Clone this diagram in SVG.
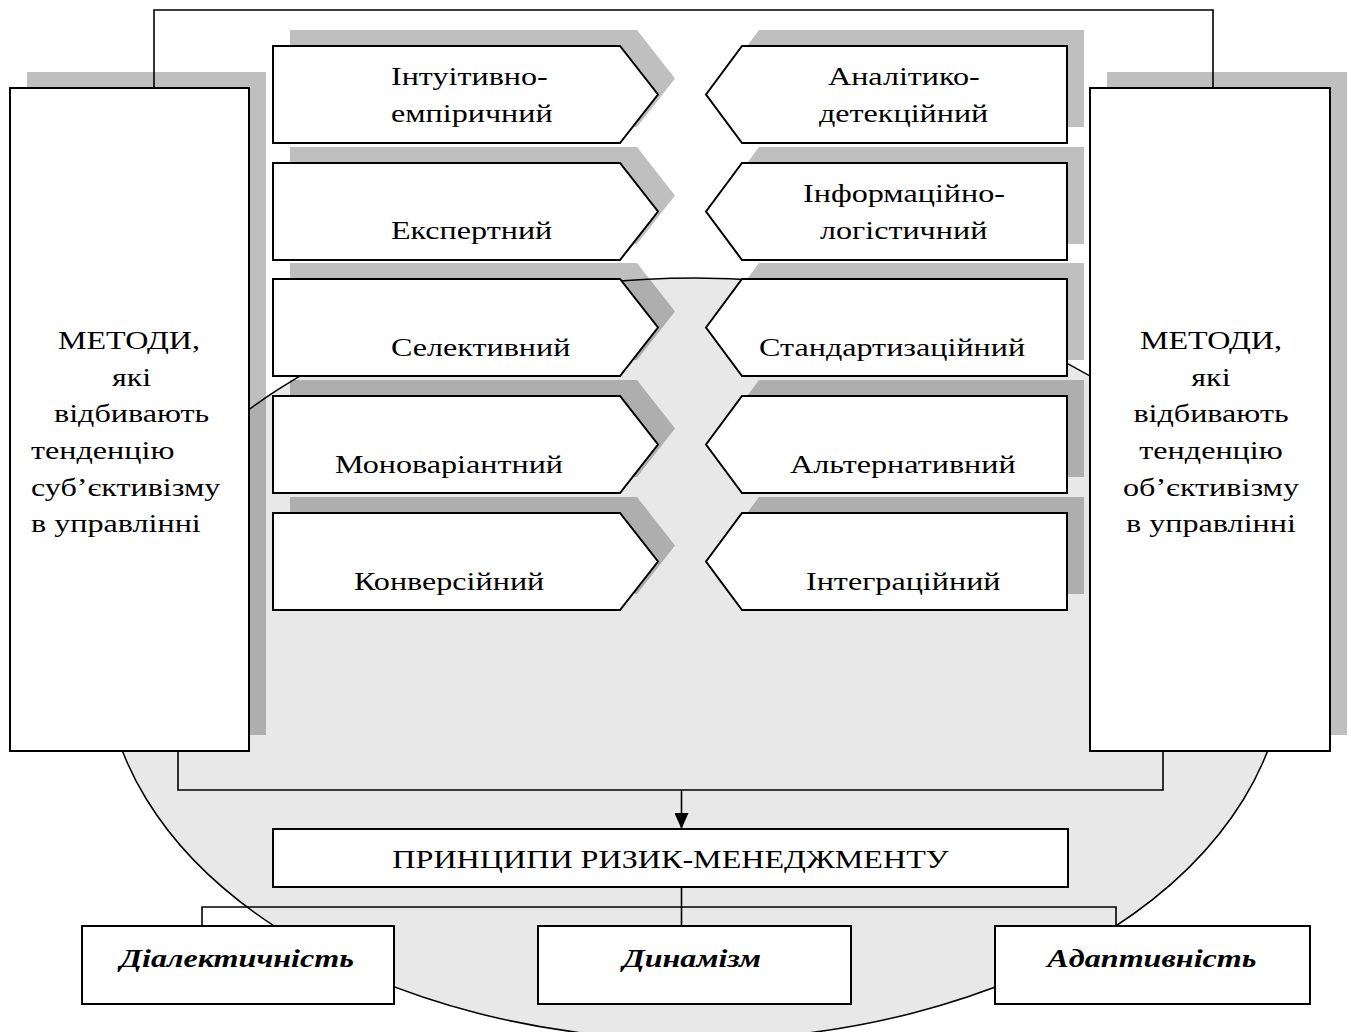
<svg xmlns="http://www.w3.org/2000/svg" width="1351" height="1032" viewBox="0 0 1351 1032">
<defs>
<style>
.bg{fill:#fff}
.ell{fill:#e8e8e8;stroke:#000;stroke-width:1.5}
.sh{fill:#000;fill-opacity:0.25}
.box{fill:#fff;stroke:#000;stroke-width:2}
.t{font-family:"Liberation Serif","Times New Roman",serif;font-size:26px;fill:#000}
.b{font-family:"Liberation Serif","Times New Roman",serif;font-size:26px;font-weight:bold;font-style:italic;fill:#000}
.ln{fill:none;stroke:#000;stroke-width:1.6}
</style>
<marker id="ah" markerWidth="16" markerHeight="14" refX="16" refY="7" orient="auto" markerUnits="userSpaceOnUse" viewBox="0 0 16 14">
<path d="M0,0 L16,7 L0,14 Z" fill="#000"/>
</marker>
<polygon id="la" points="0,0 347,0 385,48.5 347,97 0,97"/>
<polygon id="ra" points="0,48.5 36,0 361,0 361,97 36,97"/>
</defs>
<rect class="bg" x="0" y="0" width="1351" height="1032"/>
<ellipse class="ell" cx="695" cy="659" rx="590" ry="381"/>

<g id="shadows" class="sh">
<rect x="27" y="72" width="239" height="663"/>
<rect x="1107" y="72" width="240" height="663"/>
<use href="#la" x="290" y="30"/>
<use href="#la" x="290" y="147"/>
<use href="#la" x="290" y="263"/>
<use href="#la" x="290" y="380"/>
<use href="#la" x="290" y="497"/>
<use href="#ra" x="723" y="30"/>
<use href="#ra" x="723" y="147"/>
<use href="#ra" x="723" y="263"/>
<use href="#ra" x="723" y="380"/>
<use href="#ra" x="723" y="497"/>
</g>

<g id="connectors">
<polyline class="ln" points="154,88 154,10 1213,10 1213,88"/>
<polyline class="ln" points="178,751 178,790 1163,790 1163,751"/>
<line class="ln" x1="681.5" y1="790" x2="681.5" y2="829" marker-end="url(#ah)"/>
<line class="ln" x1="681.5" y1="887" x2="681.5" y2="926"/>
<polyline class="ln" points="202,926 202,907 1116,907 1116,926"/>
</g>

<g id="left-methods">
<rect class="box" x="10" y="88" width="239" height="663"/>
<g transform="scale(1.2356 1)">
<text class="t" x="46.9" y="349">МЕТОДИ,</text>
<text class="t" x="90.6" y="386">які</text>
<text class="t" x="43.7" y="422">відбивають</text>
<text class="t" x="25.1" y="459">тенденцію</text>
<text class="t" x="25.1" y="496">суб’єктивізму</text>
<text class="t" x="25.1" y="532">в управлінні</text>
</g>
</g>

<g id="right-methods">
<rect class="box" x="1090" y="88" width="240" height="663"/>
<g transform="scale(1.2356 1)" text-anchor="middle">
<text class="t" x="980.1" y="349">МЕТОДИ,</text>
<text class="t" x="980.1" y="386">які</text>
<text class="t" x="980.1" y="422">відбивають</text>
<text class="t" x="980.1" y="459">тенденцію</text>
<text class="t" x="980.1" y="496">об’єктивізму</text>
<text class="t" x="980.1" y="532">в управлінні</text>
</g>
</g>

<g id="intuitive">
<use class="box" href="#la" x="273" y="46"/>
<g transform="scale(1.2356 1)">
<text class="t" x="316.4" y="85">Інтуітивно-</text>
<text class="t" x="316.4" y="122">емпіричний</text>
</g>
</g>
<g id="expert">
<use class="box" href="#la" x="273" y="163"/>
<text class="t" transform="scale(1.2356 1)" x="316.4" y="239">Експертний</text>
</g>
<g id="selective">
<use class="box" href="#la" x="273" y="279"/>
<text class="t" transform="scale(1.2356 1)" x="316.4" y="356">Селективний</text>
</g>
<g id="monovariant">
<use class="box" href="#la" x="273" y="396"/>
<text class="t" transform="scale(1.2356 1)" x="271.1" y="473">Моноваріантний</text>
</g>
<g id="conversion">
<use class="box" href="#la" x="273" y="513"/>
<text class="t" transform="scale(1.2356 1)" x="286.5" y="590">Конверсійний</text>
</g>

<g id="analytic">
<use class="box" href="#ra" x="706" y="46"/>
<g transform="scale(1.2356 1)">
<text class="t" x="670.1" y="85">Аналітико-</text>
<text class="t" x="662.8" y="122">детекційний</text>
</g>
</g>
<g id="information">
<use class="box" href="#ra" x="706" y="163"/>
<g transform="scale(1.2356 1)">
<text class="t" x="649.9" y="202">Інформаційно-</text>
<text class="t" x="663.6" y="239">логістичний</text>
</g>
</g>
<g id="standard">
<use class="box" href="#ra" x="706" y="279"/>
<text class="t" transform="scale(1.2356 1)" x="614.3" y="356">Стандартизаційний</text>
</g>
<g id="alternative">
<use class="box" href="#ra" x="706" y="396"/>
<text class="t" transform="scale(1.2356 1)" x="639.4" y="473">Альтернативний</text>
</g>
<g id="integration">
<use class="box" href="#ra" x="706" y="513"/>
<text class="t" transform="scale(1.2356 1)" x="652.3" y="590">Інтеграційний</text>
</g>

<g id="principles">
<rect class="box" x="273" y="829" width="795" height="58"/>
<text class="t" transform="scale(1.2356 1)" x="542.6" y="868" text-anchor="middle">ПРИНЦИПИ РИЗИК-МЕНЕДЖМЕНТУ</text>
</g>
<g id="dialectic">
<rect class="box" x="82" y="926" width="312" height="78"/>
<text class="b" transform="scale(1.2356 1)" x="191.8" y="967" text-anchor="middle">Діалектичність</text>
</g>
<g id="dynamism">
<rect class="box" x="538" y="926" width="313" height="78"/>
<text class="b" transform="scale(1.2356 1)" x="560" y="967" text-anchor="middle">Динамізм</text>
</g>
<g id="adaptive">
<rect class="box" x="995" y="926" width="315" height="78"/>
<text class="b" transform="scale(1.2356 1)" x="932.3" y="967" text-anchor="middle">Адаптивність</text>
</g>
</svg>
